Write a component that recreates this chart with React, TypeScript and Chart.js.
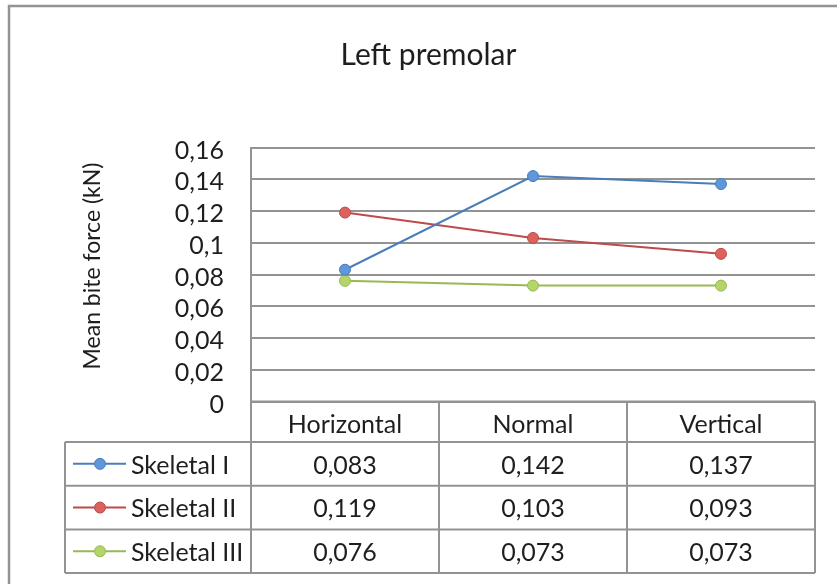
import React, { useEffect, useRef } from 'react';
import { Chart, registerables } from 'chart.js';

Chart.register(...registerables);

const chartTitle = 'Left premolar';
const yAxisTitle = 'Mean bite force (kN)';
const categories = ['Horizontal', 'Normal', 'Vertical'];
const seriesNames = ['Skeletal I', 'Skeletal II', 'Skeletal III'];
const skeletalI = [0.083, 0.142, 0.137];
const skeletalII = [0.119, 0.103, 0.093];
const skeletalIII = [0.076, 0.073, 0.073];
const yTickValues = [0, 0.02, 0.04, 0.06, 0.08, 0.1, 0.12, 0.14, 0.16];

const lineColors = ['#4a7ebb', '#be4b48', '#98b954'];
const markerFills = ['#5e98d8', '#dc625e', '#b3d56a'];
const gridColor = '#939393';
const textColor = '#1e1e1e';
const FONT = 'Lato, "Open Sans", sans-serif';

const W = 837;
const H = 584;

const fmtTick = (v: number) => String(parseFloat(v.toFixed(2))).replace('.', ',');
const fmtVal = (v: number) => v.toFixed(3).replace('.', ',');

const excelPlugin = {
  id: 'excelDecor',
  beforeDraw(chart: any) {
    const ctx = chart.ctx;
    ctx.save();
    ctx.fillStyle = '#ffffff';
    ctx.fillRect(0, 0, chart.width, chart.height);
    ctx.strokeStyle = gridColor;
    ctx.lineWidth = 2.5;
    ctx.strokeRect(9, 6, chart.width + 40, chart.height + 40);
    // chart title
    ctx.fillStyle = textColor;
    ctx.font = `30px ${FONT}`;
    ctx.textAlign = 'center';
    ctx.textBaseline = 'alphabetic';
    ctx.fillText(chartTitle, 428.5, 65);
    // y axis title
    ctx.save();
    ctx.translate(100, 266);
    ctx.rotate(-Math.PI / 2);
    ctx.font = `23px ${FONT}`;
    ctx.fillText(yAxisTitle, 0, 0);
    ctx.restore();
    ctx.restore();
  },
  afterDraw(chart: any) {
    const ctx = chart.ctx;
    const { left, right, bottom } = chart.chartArea;
    const xs = chart.scales.x;
    const centers = categories.map((_, i) => xs.getPixelForValue(i));
    const half = (centers[1] - centers[0]) / 2;
    const bounds = [centers[0] - half, ...centers.map((c) => c + half)];
    const headerH = 40.5;
    const rowH = 43.7;
    const legendLeft = 65;
    const tableBottom = bottom + headerH + rowH * seriesNames.length;

    ctx.save();
    ctx.strokeStyle = gridColor;
    ctx.lineWidth = 2;
    const line = (x1: number, y1: number, x2: number, y2: number) => {
      ctx.beginPath();
      ctx.moveTo(x1, y1);
      ctx.lineTo(x2, y2);
      ctx.stroke();
    };
    line(left, bottom, right, bottom);
    for (let r = 0; r <= seriesNames.length; r++) {
      const y = bottom + headerH + r * rowH;
      line(legendLeft, y, right, y);
    }
    bounds.forEach((b) => line(b, bottom, b, tableBottom));
    line(legendLeft, bottom + headerH, legendLeft, tableBottom);

    ctx.fillStyle = textColor;
    ctx.font = `25px ${FONT}`;
    ctx.textAlign = 'center';
    ctx.textBaseline = 'alphabetic';
    categories.forEach((c, i) => ctx.fillText(c, centers[i], bottom + 31.5));

    chart.data.datasets.forEach((ds: any, r: number) => {
      const top = bottom + headerH + r * rowH;
      const base = top + 31.5;
      ctx.fillStyle = textColor;
      ctx.textAlign = 'center';
      ds.data.forEach((v: number, i: number) => ctx.fillText(fmtVal(v), centers[i], base));
      // legend key
      const cy = top + rowH / 2;
      ctx.strokeStyle = ds.borderColor;
      ctx.lineWidth = 2;
      line(legendLeft + 8, cy, legendLeft + 61, cy);
      ctx.beginPath();
      ctx.arc(legendLeft + 35, cy, 5.5, 0, Math.PI * 2);
      ctx.fillStyle = ds.pointBackgroundColor;
      ctx.fill();
      ctx.lineWidth = 1;
      ctx.stroke();
      ctx.fillStyle = textColor;
      ctx.textAlign = 'left';
      ctx.fillText(ds.label, legendLeft + 66, base);
    });
    ctx.restore();
  },
};

export default function App() {
  const ref = useRef<HTMLCanvasElement>(null);

  useEffect(() => {
    if (!ref.current) return;
    const series = [skeletalI, skeletalII, skeletalIII];
    const chart = new Chart(ref.current, {
      type: 'line',
      data: {
        labels: categories,
        datasets: series.map((d, i) => ({
          label: seriesNames[i],
          data: d,
          borderColor: lineColors[i],
          backgroundColor: markerFills[i],
          pointBackgroundColor: markerFills[i],
          pointBorderColor: lineColors[i],
          pointBorderWidth: 1,
          pointRadius: 5.5,
          borderWidth: 2,
          tension: 0,
          fill: false,
        })),
      },
      options: {
        responsive: false,
        animation: false,
        devicePixelRatio: 1,
        layout: { padding: { left: 0, top: 147.5, right: 22, bottom: 182.5 } },
        plugins: {
          legend: { display: false },
          title: { display: false },
          tooltip: { enabled: false },
        },
        scales: {
          x: {
            type: 'category',
            offset: true,
            display: false,
          },
          y: {
            min: 0,
            max: 0.16,
            afterFit: (s: any) => {
              s.width = 251;
            },
            afterBuildTicks: (s: any) => {
              s.ticks = yTickValues.map((v) => ({ value: v }));
            },
            border: { display: true, color: gridColor, width: 2 },
            grid: { color: gridColor, lineWidth: 2, drawTicks: false },
            ticks: {
              autoSkip: false,
              padding: 27,
              labelOffset: 3,
              color: textColor,
              font: { family: FONT, size: 25 },
              callback: (v: any) => fmtTick(Number(v)),
            },
          },
        },
      },
      plugins: [excelPlugin],
    });
    return () => chart.destroy();
  }, []);

  return (
    <div style={{ position: 'fixed', left: 0, top: 0, width: W, height: H, background: '#fff' }}>
      <canvas ref={ref} width={W} height={H} />
    </div>
  );
}
